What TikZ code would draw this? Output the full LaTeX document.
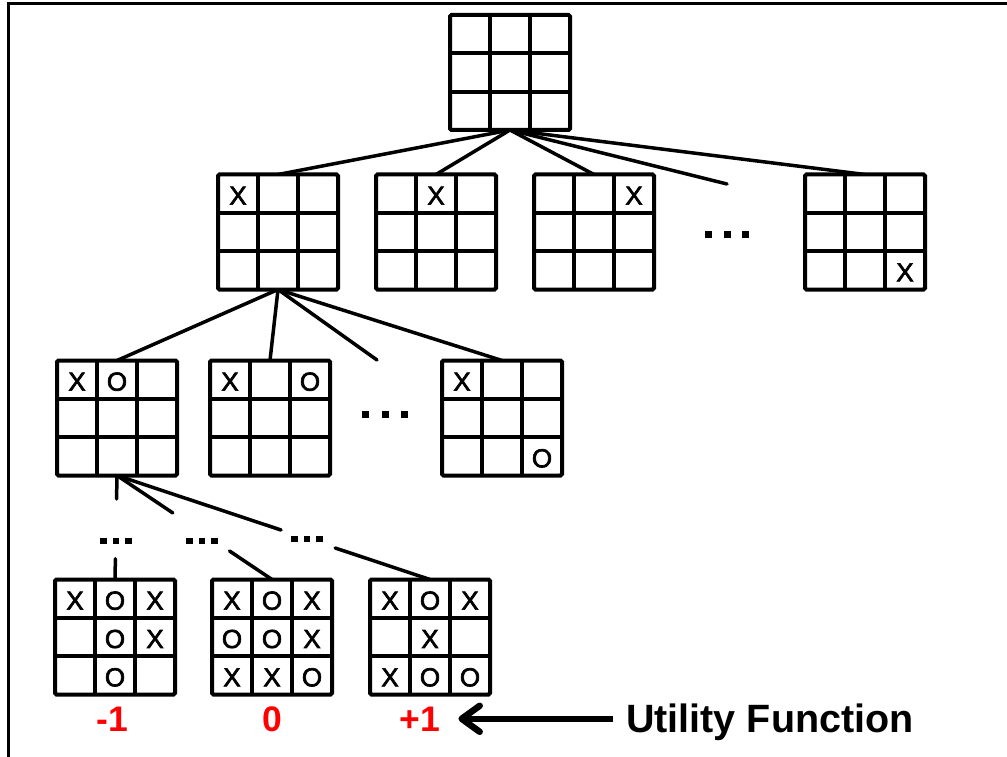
\documentclass[tikz,border=0pt]{standalone}
\usepackage{fontspec}
\setmainfont{Liberation Sans}
\newfontfamily\markfont{Liberation Sans}[FakeBold=2.5]
\usetikzlibrary{calc,arrows.meta,backgrounds}

\tikzset{
  tttboard/.style={draw, line width=4pt, rounded corners=1.5pt,
    minimum width=120pt, minimum height=115pt, inner sep=0pt, outer sep=0pt, fill=white},
  gridline/.style={line width=4pt},
  tttmark/.style={font=\markfont\fontsize{26}{26}\selectfont, inner sep=0pt, yshift=-2pt},
  link/.style={line width=3.5pt, line cap=round},
  valuelabel/.style={text=red, font=\bfseries\fontsize{35.5}{35.5}\selectfont, inner sep=0pt, anchor=base},
  arrowline/.style={line width=6.5pt, -{Straight Barb[length=18pt,width=26pt,round]}},
}

% inner lines of a 3x3 board node
\newcommand\tttgrid[1]{%
  \foreach \f in {1,2} {
    \draw[gridline] ($(#1.north west)!\f/3!(#1.north east)$) -- ($(#1.south west)!\f/3!(#1.south east)$);
    \draw[gridline] ($(#1.north west)!\f/3!(#1.south west)$) -- ($(#1.north east)!\f/3!(#1.south east)$);
  }}
% marks given as row/column/symbol, rows and columns counted from 0
\newcommand\tttmarks[2]{%
  \foreach \r/\c/\m in {#2} {
    \node[tttmark] at ($(#1.center)+({(\c-1)*40},{(\r-1)*115/3})$) {\m};
  }}
% three square dots: centre x, centre y, square size, pitch
\newcommand\dotrow[4]{%
  \foreach \k in {-1,0,1} {\fill ({#1+\k*#4-#3/2},{#2-#3/2}) rectangle ++(#3,#3);}}

\begin{document}
\begin{tikzpicture}[x=1pt, y=-1pt]
\useasboundingbox (0,0) rectangle (1007,757);
\draw[line width=3pt] (1007,3.5) -- (8,3.5) -- (8,757);

% root
\node[tttboard] (root) at (510,72.5) {};
\tttgrid{root}

% first move
\node[tttboard] (b1) at (278,232) {};
\node[tttboard] (b2) at (436,232) {};
\node[tttboard] (b3) at (594,232) {};
\node[tttboard] (b9) at (865,232) {};
\foreach \n in {b1,b2,b3,b9} {\tttgrid{\n}}
\tttmarks{b1}{0/0/X}
\tttmarks{b2}{0/1/X}
\tttmarks{b3}{0/2/X}
\tttmarks{b9}{2/2/X}
\coordinate (more1) at (727,184);
\dotrow{727}{234.5}{7}{18.5}

% second move
\node[tttboard] (c1) at (117,418) {};
\node[tttboard] (c2) at (270,418) {};
\node[tttboard] (c8) at (502,418) {};
\foreach \n in {c1,c2,c8} {\tttgrid{\n}}
\tttmarks{c1}{0/0/X,0/1/O}
\tttmarks{c2}{0/0/X,0/2/O}
\tttmarks{c8}{0/0/X,2/2/O}
\coordinate (more2) at (377,360);
\dotrow{385}{414}{7}{19.5}

% terminal positions
\node[tttboard] (d1) at (115,637) {};
\node[tttboard] (d2) at (272,637) {};
\node[tttboard] (d3) at (430,637) {};
\foreach \n in {d1,d2,d3} {\tttgrid{\n}}
\tttmarks{d1}{0/0/X,0/1/O,0/2/X,1/1/O,1/2/X,2/1/O}
\tttmarks{d2}{0/0/X,0/1/O,0/2/X,1/0/O,1/1/O,1/2/X,2/0/X,2/1/X,2/2/O}
\tttmarks{d3}{0/0/X,0/1/O,0/2/X,1/1/X,2/0/X,2/1/O,2/2/O}
\dotrow{116}{541}{6.5}{12.5}
\dotrow{202}{541}{6.5}{12.5}
\dotrow{307}{539}{6.5}{12.5}

% tree edges
\begin{pgfonlayer}{background}
  \foreach \n in {b1,b2,b3,b9} {\draw[link] (root.south) -- (\n.north);}
  \draw[link] (root.south) -- (more1);
  \foreach \n in {c1,c2,c8} {\draw[link] (b1.south) -- (\n.north);}
  \draw[link] (b1.south) -- (more2);
  \draw[link] (c1.south) -- ($(c1.south)!0.226!(d1.north)$);
  \draw[link] ($(c1.south)!0.80!(d1.north)$) -- (d1.north);
  \draw[link] (c1.south) -- ($(c1.south)!0.36!(d2.north)$);
  \draw[link] ($(c1.south)!0.726!(d2.north)$) -- (d2.north);
  \draw[link] (c1.south) -- ($(c1.south)!0.524!(d3.north)$);
  \draw[link] ($(c1.south)!0.697!(d3.north)$) -- (d3.north);
\end{pgfonlayer}

% utility values
\node[valuelabel] (vm) at (112,731) {-1};
\node[valuelabel] (vz) at (272,731) {0};
\node[valuelabel] (vp) at (420,731) {+1};
\node[anchor=base west, inner sep=0pt, font=\bfseries\fontsize{39.5}{39.5}\selectfont] (uf) at (626,732) {Utility Function};
\draw[arrowline, shorten <=13pt, shorten >=18pt] (uf.west |- vp.east) -- (vp.east);
\end{tikzpicture}
\end{document}
